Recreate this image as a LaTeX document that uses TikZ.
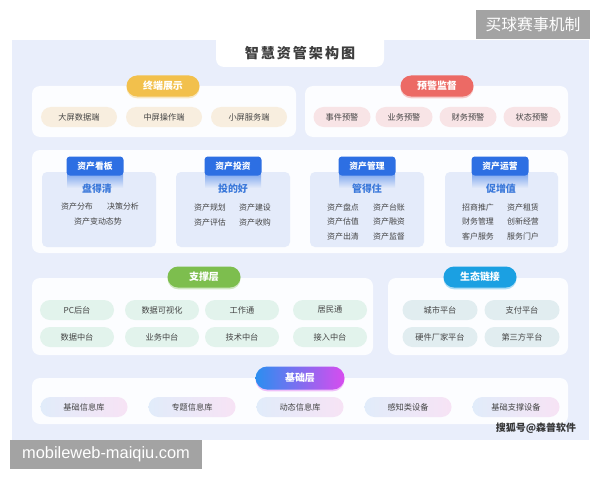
\documentclass[tikz,border=0pt]{standalone}
\usepackage{fontspec}
\setmainfont{Noto Sans CJK SC}
\newfontfamily\titlefont[LetterSpace=14]{Noto Sans CJK SC}
\newfontfamily\latinfont{Liberation Sans}
\usetikzlibrary{shadows}

\begin{document}
\begin{tikzpicture}[x=0.03cm, y=-0.03cm,
    panel/.style={fill=panelw, rounded corners=0.24cm},
    headpill/.style={rounded corners=0.315cm, minimum width=2.19cm, minimum height=0.63cm, inner sep=0pt, text=white, font=\fontsize{8.5}{10}\selectfont\bfseries},
    pill/.style={rounded corners=0.3cm, minimum height=0.6cm, inner sep=0pt, text=txt, font=\fontsize{7}{8}\selectfont},
    card/.style={fill=cardbg, rounded corners=0.15cm},
    cardhead/.style={fill=cardblue, rounded corners=0.1cm, minimum width=1.71cm, minimum height=0.57cm, inner sep=0pt, text=white, font=\fontsize{7.5}{9}\selectfont\bfseries},
    cardsub/.style={text=subblue, font=\fontsize{8.5}{10}\selectfont\bfseries},
    item/.style={text=txt, inner sep=0pt, font=\fontsize{6.8}{8}\selectfont},
    wmbox/.style={fill=wmgray, inner sep=0pt, minimum height=0.87cm, text=white},
    glow/.style={drop shadow={shadow xshift=0pt, shadow yshift=-1.5pt, fill=#1, opacity=.35}}
]
    \definecolor{bgblue}{HTML}{E9EEFB}
    \definecolor{panelw}{HTML}{FCFDFF}
    \definecolor{txt}{HTML}{444444}
    \definecolor{cyellow}{HTML}{F2C04C}
    \definecolor{pyellow}{HTML}{F8EEDF}
    \definecolor{cred}{HTML}{EC6A65}
    \definecolor{pred}{HTML}{F8E4E6}
    \definecolor{cardbg}{HTML}{E4EBFA}
    \definecolor{cardblue}{HTML}{2D6FE3}
    \definecolor{subblue}{HTML}{3A78DA}
    \definecolor{cgreen}{HTML}{7DBE4E}
    \definecolor{pgreen}{HTML}{E2F3EC}
    \definecolor{cblue}{HTML}{1BA0E2}
    \definecolor{pblue}{HTML}{E1EDF0}
    \definecolor{gradl}{HTML}{2B8EF0}
    \definecolor{gradr}{HTML}{D84CEF}
    \definecolor{pgradl}{HTML}{E1ECFA}
    \definecolor{pgradr}{HTML}{F7E3F5}
    \definecolor{wmgray}{HTML}{A3A3A3}

    \useasboundingbox[fill=white] (0,0) rectangle (600,480);
    \fill[bgblue] (12,40) rectangle (589,440);

    % title tab
    \fill[white, rounded corners=0.24cm] (216,30) rectangle (384,67);
    \node[text=txt!90!black, font=\titlefont\fontsize{12}{14}\selectfont\bfseries] (title) at (300,53) {智慧资管架构图};

    % terminal / warning row
    \fill[panel] (32,86) rectangle (296,137);
    \fill[panel] (305,86) rectangle (568,137);

    \node[headpill, fill=cyellow, glow=cyellow] (zhongduan) at (163,86) {终端展示};
    \node[pill, fill=pyellow, minimum width=2.28cm] (dapin) at (79,117) {大屏数据端};
    \node[pill, fill=pyellow, minimum width=2.28cm] (zhongpin) at (164,117) {中屏操作端};
    \node[pill, fill=pyellow, minimum width=2.28cm] (xiaopin) at (249,117) {小屏服务端};

    \node[headpill, fill=cred, glow=cred] (yujing) at (437,86) {预警监督};
    \node[pill, fill=pred, minimum width=1.71cm] (shijian) at (342,117) {事件预警};
    \node[pill, fill=pred, minimum width=1.71cm] (yewuyj) at (404,117) {业务预警};
    \node[pill, fill=pred, minimum width=1.71cm] (caiwuyj) at (468,117) {财务预警};
    \node[pill, fill=pred, minimum width=1.71cm] (zhuangtai) at (532,117) {状态预警};

    % asset cards
    \fill[panel] (32,150) rectangle (568,253);

    \fill[card] (42,172) rectangle (156,247);
    \fill[card] (176,172) rectangle (290,247);
    \fill[card] (310,172) rectangle (424,247);
    \fill[card] (445,172) rectangle (558,247);
    \shade[top color=cardblue!60, bottom color=cardbg] (67,174) rectangle (123,188);
    \shade[top color=cardblue!60, bottom color=cardbg] (205,174) rectangle (261,188);
    \shade[top color=cardblue!60, bottom color=cardbg] (339,174) rectangle (395,188);
    \shade[top color=cardblue!60, bottom color=cardbg] (472,174) rectangle (528,188);

    \node[cardhead] (kanban) at (95,166) {资产看板};
    \node[cardsub] (pandeqing) at (97,189) {盘得清};
    \node[item] (fenbu) at (77,206) {资产分布};
    \node[item] (juece) at (123,206) {决策分析};
    \node[item] (biandong) at (98,221) {资产变动态势};

    \node[cardhead] (touzi) at (233,166) {资产投资};
    \node[cardsub] (toudehao) at (233,189) {投的好};
    \node[item] (guihua) at (210,207) {资产规划};
    \node[item] (jianshe) at (255,207) {资产建设};
    \node[item] (pinggu) at (210,222) {资产评估};
    \node[item] (shougou) at (255,222) {资产收购};

    \node[cardhead] (guanli) at (367,166) {资产管理};
    \node[cardsub] (guandezhu) at (367,189) {管得住};
    \node[item] (pandian) at (343,207) {资产盘点};
    \node[item] (taizhang) at (389,207) {资产台账};
    \node[item] (guzhi) at (343,221) {资产估值};
    \node[item] (rongzi) at (389,221) {资产融资};
    \node[item] (chuqing) at (343,236) {资产出清};
    \node[item] (jiandu) at (389,236) {资产监督};

    \node[cardhead] (yunying) at (500,166) {资产运营};
    \node[cardsub] (cuzengzhi) at (501,189) {促增值};
    \node[item] (zhaoshang) at (478,207) {招商推广};
    \node[item] (zulin) at (523,207) {资产租赁};
    \node[item] (caiwugl) at (478,221) {财务管理};
    \node[item] (chuangxin) at (523,221) {创新经营};
    \node[item] (kehu) at (478,236) {客户服务};
    \node[item] (menhu) at (523,236) {服务门户};

    % support / ecosystem row
    \fill[panel] (32,278) rectangle (373,355);
    \fill[panel] (388,278) rectangle (568,355);

    \node[headpill, fill=cgreen, glow=cgreen] (zhicheng) at (204,277) {支撑层};
    \node[pill, fill=pgreen, minimum width=2.22cm] (pchoutai) at (77,310) {PC后台};
    \node[pill, fill=pgreen, minimum width=2.22cm] (keshihua) at (162,310) {数据可视化};
    \node[pill, fill=pgreen, minimum width=2.22cm] (gongzuo) at (242,310) {工作通};
    \node[pill, fill=pgreen, minimum width=2.22cm] (jumin) at (330,310) {居民通};
    \node[pill, fill=pgreen, minimum width=2.22cm] (shujuzt) at (77,337) {数据中台};
    \node[pill, fill=pgreen, minimum width=2.22cm] (yewuzt) at (162,337) {业务中台};
    \node[pill, fill=pgreen, minimum width=2.22cm] (jishuzt) at (242,337) {技术中台};
    \node[pill, fill=pgreen, minimum width=2.22cm] (jieruzt) at (330,337) {接入中台};

    \node[headpill, fill=cblue, glow=cblue] (shengtai) at (480,277) {生态链接};
    \node[pill, fill=pblue, minimum width=2.25cm] (chengshi) at (440,310) {城市平台};
    \node[pill, fill=pblue, minimum width=2.25cm] (zhifu) at (522,310) {支付平台};
    \node[pill, fill=pblue, minimum width=2.25cm] (yingjian) at (440,337) {硬件厂家平台};
    \node[pill, fill=pblue, minimum width=2.25cm] (disanfang) at (522,337) {第三方平台};

    % base layer
    \fill[panel] (32,378) rectangle (568,424);

    \node[headpill, left color=gradl, right color=gradr, minimum width=2.67cm, minimum height=0.69cm, rounded corners=0.345cm, glow=gradr] (jichu) at (300,378) {基础层};
    \node[pill, left color=pgradl, right color=pgradr, minimum width=2.61cm] (jichuxx) at (84,407) {基础信息库};
    \node[pill, left color=pgradl, right color=pgradr, minimum width=2.61cm] (zhuanti) at (192,407) {专题信息库};
    \node[pill, left color=pgradl, right color=pgradr, minimum width=2.61cm] (dongtai) at (300,407) {动态信息库};
    \node[pill, left color=pgradl, right color=pgradr, minimum width=2.61cm] (ganzhi) at (408,407) {感知类设备};
    \node[pill, left color=pgradl, right color=pgradr, minimum width=2.61cm] (zhicsb) at (516,407) {基础支撑设备};

    % marks on the picture
    \node[text=txt!80!black, font=\fontsize{8.5}{10}\selectfont\bfseries] (souhu) at (536,428) {搜狐号@森普软件};
    \node[wmbox, minimum width=3.42cm, font=\fontsize{13.5}{15}\selectfont] (wmtop) at (533,24.5) {买球赛事机制};
    \node[wmbox, minimum width=5.76cm, font=\latinfont\fontsize{14}{16}\selectfont] (wmbottom) at (106,454.5) {mobileweb-maiqiu.com};

\end{tikzpicture}
\end{document}
